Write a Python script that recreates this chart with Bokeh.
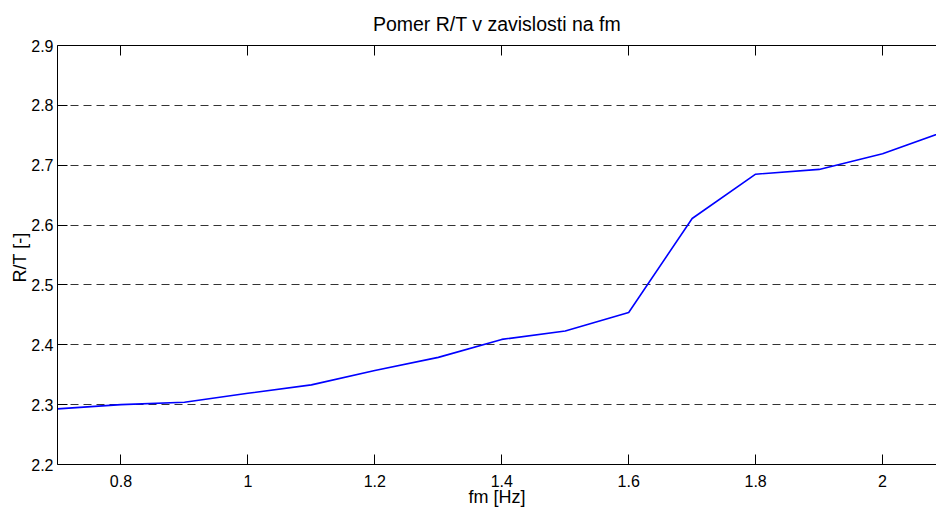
from bokeh.plotting import figure
from bokeh.models import LinearAxis, FixedTicker, Range1d
from bokeh.embed import file_html
from bokeh.resources import INLINE

# ---- data ----
fm = [0.7, 0.8, 0.9, 1.0, 1.1, 1.2, 1.3, 1.4, 1.5, 1.6, 1.7, 1.8, 1.9, 2.0, 2.1]
rt = [2.293, 2.300, 2.304, 2.319, 2.333, 2.357, 2.379, 2.409, 2.423, 2.454,
      2.611, 2.685, 2.693, 2.719, 2.757]
x_ticks = [0.8, 1.0, 1.2, 1.4, 1.6, 1.8, 2.0]
x_tick_labels = ["0.8", "1", "1.2", "1.4", "1.6", "1.8", "2"]
y_ticks = [2.2, 2.3, 2.4, 2.5, 2.6, 2.7, 2.8, 2.9]
y_tick_labels = ["2.2", "2.3", "2.4", "2.5", "2.6", "2.7", "2.8", "2.9"]
title_text = "Pomer R/T v zavislosti na fm"
x_label = "fm [Hz]"
y_label = "R/T  [-]"

FONT = "Liberation Sans"

p = figure(width=936, height=510, output_backend="svg", toolbar_location=None,
           x_range=Range1d(0.7, 2.085), y_range=Range1d(2.2, 2.9),
           min_border_left=57, min_border_right=0, min_border_top=45,
           min_border_bottom=46, x_axis_label=x_label, y_axis_label=y_label)

p.title.text = title_text
p.title.align = "center"
p.title.text_font = FONT
p.title.text_font_size = "19.5px"
p.title.text_font_style = "normal"
p.title.text_color = "black"
p.title.standoff = 21

p.outline_line_color = None
p.background_fill_color = "white"
p.border_fill_color = "white"

p.line(fm, rt, line_color="#0000ff", line_width=1.6)

# grid
p.xgrid.visible = False
p.ygrid.ticker = FixedTicker(ticks=y_ticks)
p.ygrid.grid_line_color = "#333333"
p.ygrid.grid_line_dash = "8 5"
p.ygrid.grid_line_width = 1

xa = p.xaxis[0]
xa.ticker = FixedTicker(ticks=x_ticks)
xa.major_label_overrides = {t: l for t, l in zip(x_ticks, x_tick_labels)}
ya = p.yaxis[0]
ya.ticker = FixedTicker(ticks=y_ticks)
ya.major_label_overrides = {t: l for t, l in zip(y_ticks, y_tick_labels)}

for ax in (xa, ya):
    ax.major_tick_in = 10
    ax.major_tick_out = 0
    ax.minor_tick_line_color = None
    ax.axis_line_color = "black"
    ax.major_tick_line_color = "black"
    ax.major_label_text_font = FONT
    ax.major_label_text_font_size = "16px"
    ax.major_label_text_color = "black"
    ax.axis_label_text_font = FONT
    ax.axis_label_text_font_size = "18px"
    ax.axis_label_text_font_style = "normal"
    ax.axis_label_text_color = "black"

xa.major_label_standoff = 10
xa.axis_label_standoff = -3
ya.major_label_standoff = 4
ya.axis_label_standoff = -2

top = LinearAxis(ticker=FixedTicker(ticks=x_ticks))
top.major_label_overrides = {t: "" for t in x_ticks}
top.major_tick_in = 10
top.major_tick_out = 0
top.minor_tick_line_color = None
top.major_label_standoff = 0
top.major_label_text_font_size = "1px"
top.axis_line_color = "black"
p.add_layout(top, "above")

open("out.html", "w").write(file_html(p, INLINE))
